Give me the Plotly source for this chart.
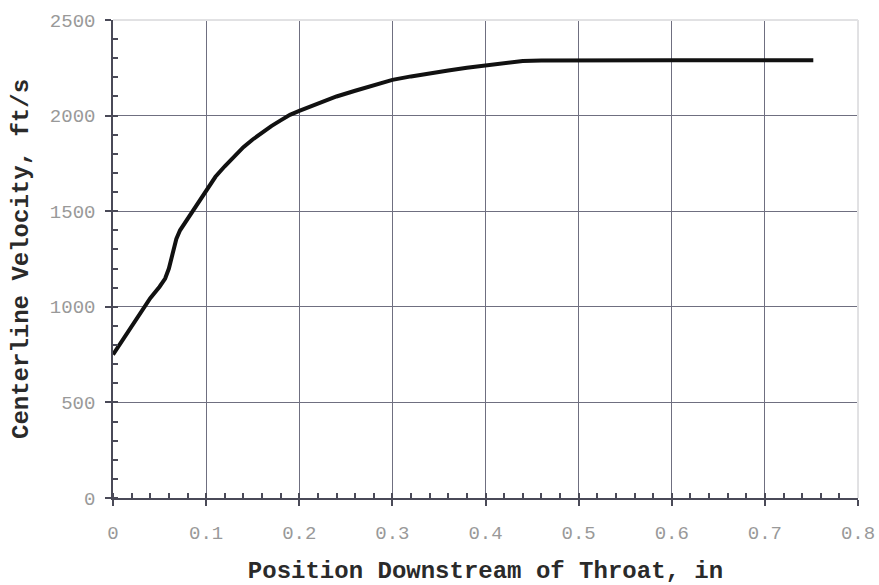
import plotly.graph_objects as go

# Centerline velocity along the nozzle, downstream of the throat
position_in = [0, 0.01, 0.02, 0.03, 0.04, 0.05, 0.056, 0.060, 0.064, 0.068,
               0.072, 0.078, 0.085, 0.092, 0.10, 0.11, 0.12, 0.13, 0.14, 0.15,
               0.16, 0.17, 0.18, 0.19, 0.20, 0.22, 0.24, 0.26, 0.28, 0.30,
               0.32, 0.34, 0.36, 0.38, 0.40, 0.42, 0.43, 0.44, 0.46, 0.50,
               0.55, 0.60, 0.65, 0.70, 0.752]
velocity_fts = [750, 825, 900, 975, 1045, 1105, 1148, 1200, 1280, 1355,
                1400, 1445, 1490, 1550, 1612, 1680, 1735, 1786, 1835, 1875,
                1912, 1945, 1975, 2004, 2025, 2065, 2100, 2130, 2160, 2187,
                2205, 2222, 2236, 2250, 2262, 2270, 2278, 2286, 2288, 2290,
                2290, 2290, 2290, 2290, 2290]

x_ticks = [0, 0.1, 0.2, 0.3, 0.4, 0.5, 0.6, 0.7, 0.8]
x_tick_text = ["0", "0.1", "0.2", "0.3", "0.4", "0.5", "0.6", "0.7", "0.8"]
y_ticks = [0, 500, 1000, 1500, 2000, 2500]
y_tick_text = ["0", "500", "1000", "1500", "2000", "2500"]

MONO = "Liberation Mono, Courier New, monospace"
GRID = "#6f6f80"
AXIS = "#4a4a58"
TICKFONT = dict(family=MONO, size=19, color="#999999")
TITLEFONT = dict(family=MONO, size=24, color="#2a2a2a", weight="bold")

fig = go.Figure()
fig.add_trace(go.Scatter(
    x=position_in, y=velocity_fts, mode="lines",
    line=dict(color="#111111", width=4),
    hoverinfo="skip", showlegend=False,
))

fig.update_xaxes(
    range=[0, 0.8], tickvals=x_ticks, ticktext=x_tick_text,
    showgrid=True, gridcolor=GRID, gridwidth=1,
    showline=True, linecolor=AXIS, linewidth=1.5,
    ticks="outside", ticklen=6, tickcolor=AXIS, tickwidth=1.5,
    minor=dict(dtick=0.02, ticks="inside", ticklen=5, tickcolor=AXIS, showgrid=False),
    tickfont=TICKFONT, ticklabelstandoff=10, zeroline=False,
    title=dict(text="Position Downstream of Throat, in", font=TITLEFONT, standoff=18),
)
fig.update_yaxes(
    range=[0, 2500], tickvals=y_ticks, ticktext=y_tick_text,
    showgrid=True, gridcolor=GRID, gridwidth=1,
    showline=True, linecolor=AXIS, linewidth=1.5,
    ticks="outside", ticklen=6, tickcolor=AXIS, tickwidth=1.5,
    minor=dict(dtick=100, ticks="inside", ticklen=5, tickcolor=AXIS, showgrid=False),
    tickfont=TICKFONT, ticklabelstandoff=6, zeroline=False,
    title=dict(text="Centerline Velocity, ft/s", font=TITLEFONT, standoff=14),
)

# light frame lines along the top and right edges of the plot area
for x0, y0, x1, y1 in [(0, 1, 1, 1), (1, 0, 1, 1)]:
    fig.add_shape(type="line", xref="paper", yref="paper", x0=x0, y0=y0, x1=x1, y1=y1,
                  line=dict(color="white", width=2), layer="above")
    fig.add_shape(type="line", xref="paper", yref="paper", x0=x0, y0=y0, x1=x1, y1=y1,
                  line=dict(color="#c4c4c8", width=1), layer="above")

fig.update_layout(
    width=879, height=585,
    margin=dict(l=113, r=21, t=20, b=87, autoexpand=False),
    paper_bgcolor="white", plot_bgcolor="white",
)

fig.write_html("out.html")
